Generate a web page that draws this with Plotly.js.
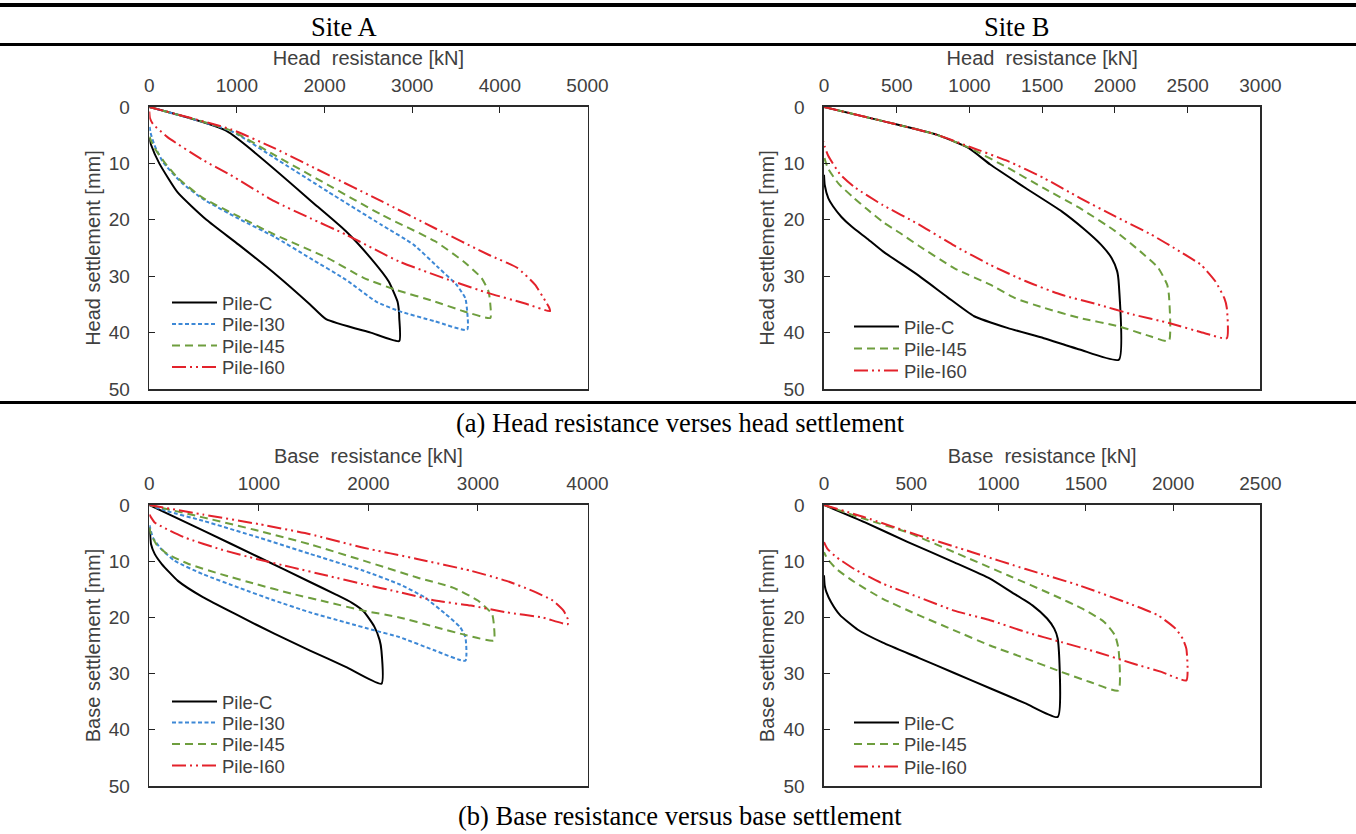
<!DOCTYPE html>
<html>
<head>
<meta charset="utf-8">
<script src="https://cdn.plot.ly/plotly-3.0.1.min.js"></script>
<style>html,body{margin:0;padding:0;background:#fff;}#chart{width:1356px;height:834px;}</style>
</head>
<body>
<div id="chart"></div>
<script>
// ---------------- DATA (resistance kN, settlement mm) ----------------
const seriesNames = ['Pile-C', 'Pile-I30', 'Pile-I45', 'Pile-I60'];
const panelTitles = ['Site A', 'Site B'];
const captionA = '(a) Head resistance verses head settlement';
const captionB = '(b) Base resistance versus base settlement';
const headXTitle = 'Head  resistance [kN]';
const headYTitle = 'Head settlement [mm]';
const baseXTitle = 'Base  resistance [kN]';
const baseYTitle = 'Base settlement [mm]';

// (a) Site A - head
const headA_C_x   = [0, 876, 1915, 2241, 2526, 2730, 2832, 2850, 2852, 2852, 2526, 2017, 1834, 1467, 1019, 652, 326, 114, 20, 0];
const headA_C_y   = [0, 4.2, 17.6, 22.0, 26.8, 30.9, 34.5, 36.5, 37.4, 41.5, 40.0, 37.6, 35.0, 30.0, 24.4, 20.0, 15.2, 10.0, 6.7, 5.5];
const headA_I30_x = [0, 937, 1426, 2037, 2649, 3015, 3300, 3504, 3606, 3627, 3627, 3260, 2852, 2588, 2241, 1834, 1426, 1019, 611, 367, 157, 60, 15, 0];
const headA_I30_y = [0, 4.3, 9.0, 15.0, 20.9, 24.4, 28.5, 31.5, 33.9, 36.2, 39.5, 38.0, 36.2, 34.5, 30.6, 26.8, 23.0, 19.8, 16.3, 13.4, 9.8, 6.8, 4.6, 3.1];
const headA_I45_x = [0, 937, 1426, 2037, 2649, 3260, 3586, 3790, 3871, 3891, 3891, 3586, 3260, 2812, 2445, 2037, 1426, 1019, 611, 326, 163, 61, 8, 0];
const headA_I45_y = [0, 4.2, 8.5, 13.8, 19.1, 23.8, 27.4, 30.3, 32.7, 35.0, 37.4, 36.2, 34.5, 32.4, 30.3, 26.8, 22.6, 19.4, 16.1, 12.6, 9.6, 7.3, 5.5, 4.3];
const headA_I60_x = [0, 937, 1426, 2037, 2649, 3260, 3871, 4197, 4401, 4523, 4564, 4572, 4279, 3871, 3464, 2852, 2241, 1834, 1426, 920, 611, 204, 41, 8, 0];
const headA_I60_y = [0, 4.0, 7.3, 12.0, 16.7, 21.5, 26.2, 28.5, 31.5, 34.5, 35.6, 36.2, 34.8, 33.0, 30.9, 27.4, 22.6, 19.7, 16.7, 12.0, 9.4, 5.3, 3.0, 2.0, 0.8];

// (a) Site B - head
const headB_C_x   = [0, 405, 774, 995, 1143, 1388, 1634, 1781, 1904, 1978, 2015, 2027, 2027, 1757, 1511, 1265, 1032, 848, 651, 405, 300, 190, 120, 62, 30, 5, 0];
const headB_C_y   = [0, 2.5, 4.9, 7.3, 10.2, 14.4, 18.5, 21.5, 24.4, 26.8, 29.1, 31.5, 44.8, 43.0, 41.0, 39.2, 37.1, 33.7, 29.9, 25.6, 23.4, 21.2, 19.5, 17.6, 16.2, 13.8, 12.0];
const headB_I45_x = [0, 405, 774, 995, 1265, 1511, 1757, 2002, 2174, 2297, 2359, 2371, 2371, 2248, 2027, 1757, 1511, 1314, 1143, 897, 651, 520, 405, 295, 200, 100, 30, 8, 0];
const headB_I45_y = [0, 2.5, 4.9, 7.2, 10.8, 14.4, 17.9, 22.0, 25.6, 28.5, 31.5, 33.3, 41.5, 40.7, 38.9, 37.4, 35.6, 33.9, 31.5, 28.6, 24.6, 22.3, 20.4, 18.1, 16.0, 13.6, 11.0, 9.5, 8.5];
const headB_I60_x = [0, 405, 774, 995, 1265, 1511, 1757, 2002, 2248, 2445, 2592, 2690, 2752, 2769, 2769, 2617, 2371, 2125, 1880, 1634, 1388, 1143, 897, 651, 405, 209, 110, 30, 5, 0];
const headB_I60_y = [0, 2.5, 4.9, 7.0, 9.6, 12.6, 16.1, 19.4, 22.6, 25.6, 28.0, 30.9, 33.9, 35.6, 41.0, 40.1, 38.3, 36.8, 35.0, 33.3, 30.9, 28.0, 24.6, 20.8, 17.4, 14.2, 11.9, 8.7, 7.0, 6.1];

// (b) Site A - base
const baseA_C_x   = [0, 489, 1000, 1467, 1700, 1850, 1956, 2053, 2102, 2119, 2119, 1793, 1467, 1141, 815, 489, 261, 114, 49, 16, 7, 0];
const baseA_C_y   = [0, 4.5, 9.3, 13.7, 15.9, 17.4, 18.9, 21.6, 24.0, 25.9, 31.8, 28.8, 25.9, 22.9, 19.7, 16.4, 13.5, 10.5, 8.7, 7.0, 5.2, 4.0];
const baseA_I30_x = [0, 163, 489, 1000, 1467, 1956, 2282, 2510, 2705, 2836, 2885, 2885, 2608, 2282, 2053, 1793, 1467, 1141, 815, 489, 228, 98, 33, 7, 0];
const baseA_I30_y = [0, 1.1, 2.8, 5.8, 8.7, 11.7, 14.1, 16.4, 19.4, 21.7, 23.5, 27.7, 25.9, 23.5, 22.3, 20.9, 19.1, 17.0, 14.7, 12.3, 9.9, 7.6, 5.8, 4.0, 3.4];
const baseA_I45_x = [0, 489, 1000, 1467, 1956, 2445, 2771, 2999, 3129, 3145, 3145, 2901, 2608, 2282, 1956, 1630, 1304, 978, 652, 359, 163, 65, 16, 0];
const baseA_I45_y = [0, 2.2, 4.6, 7.0, 9.9, 12.9, 14.7, 17.0, 19.4, 21.2, 24.1, 23.2, 21.7, 20.0, 18.8, 17.3, 15.8, 14.1, 12.3, 10.5, 8.7, 7.0, 5.2, 4.0];
const baseA_I60_x = [0, 489, 1000, 1467, 1956, 2445, 2934, 3260, 3488, 3683, 3781, 3820, 3820, 3585, 3260, 2934, 2608, 2282, 1956, 1630, 1304, 978, 652, 326, 130, 49, 16, 0];
const baseA_I60_y = [0, 1.7, 3.4, 5.2, 7.6, 9.6, 11.7, 13.5, 15.2, 17.0, 18.8, 20.3, 21.2, 20.0, 19.1, 17.9, 17.0, 15.5, 14.1, 12.6, 11.1, 9.6, 7.9, 5.8, 4.0, 3.1, 2.2, 1.7];

// (b) Site B - base
const baseB_C_x   = [0, 235, 481, 746, 951, 1074, 1196, 1278, 1319, 1339, 1339, 1155, 951, 746, 542, 337, 194, 92, 41, 14, 4, 0];
const baseB_C_y   = [0, 3.1, 6.6, 10.2, 13.1, 15.5, 17.9, 20.2, 22.0, 23.8, 37.7, 35.3, 32.6, 29.9, 27.2, 24.5, 22.2, 19.6, 17.3, 15.5, 14.3, 12.5];
const baseB_I45_x = [0, 235, 481, 746, 1053, 1319, 1483, 1605, 1667, 1687, 1687, 1524, 1360, 1155, 951, 746, 542, 337, 174, 72, 20, 0];
const baseB_I45_y = [0, 2.5, 4.9, 8.4, 12.5, 16.1, 18.5, 20.8, 23.2, 25.6, 33.0, 31.5, 29.7, 27.3, 25.0, 22.3, 19.6, 16.7, 13.7, 11.4, 9.6, 8.4];
const baseB_I60_x = [0, 235, 542, 849, 1155, 1462, 1728, 1912, 2014, 2055, 2076, 2076, 1933, 1769, 1565, 1360, 1155, 951, 746, 542, 337, 174, 72, 20, 0];
const baseB_I60_y = [0, 2.2, 5.4, 8.4, 11.4, 14.3, 17.3, 19.6, 22.0, 23.8, 25.6, 31.2, 29.7, 28.2, 26.2, 24.4, 22.6, 20.5, 18.8, 16.4, 14.0, 11.4, 9.3, 7.8, 6.6];

// axis settings per panel
const xRanges = {headA: [0, 5000], headB: [0, 3000], baseA: [0, 4000], baseB: [0, 2500]};
const xDticks = {headA: 1000, headB: 500, baseA: 1000, baseB: 500};
const yRange = [50, 0];
const yDtick = 10;

// ---------------- STYLE ----------------
const W = 1356, H = 834;
const SANS = 'Liberation Sans, Arial, sans-serif';
const SERIF = 'Liberation Serif, Times New Roman, serif';
const TXT = '#404040';
const styles = {
  'Pile-C':   {color: '#000000', dash: 'solid'},
  'Pile-I30': {color: '#3d88d6', dash: '4px,2.5px'},
  'Pile-I45': {color: '#6e9e3e', dash: '8px,5px'},
  'Pile-I60': {color: '#e3222b', dash: '14px,4px,2px,4px,2px,4px'}
};
const px = v => v / W;
const py = v => 1 - v / H;

let legendCount = 0;
const legends = {};
function legendFor(xLine, yCenter) {
  legendCount += 1;
  const key = legendCount === 1 ? 'legend' : 'legend' + legendCount;
  legends[key] = {x: px(xLine - 5), y: py(yCenter), xanchor: 'left', yanchor: 'middle',
    bgcolor: 'rgba(0,0,0,0)', font: {family: SANS, size: 18.5, color: TXT}, itemwidth: 45};
  return key;
}

function tr(x, y, name, xa, ya, legX, legY) {
  const s = styles[name];
  return {x, y, name, type: 'scatter', mode: 'lines', xaxis: xa, yaxis: ya, legend: legendFor(legX, legY),
    line: {color: s.color, dash: s.dash, width: 2, shape: 'spline', smoothing: 0.5}, hoverinfo: 'skip'};
}

const LXA = 172, LXB = 854;
const traces = [
  tr(headA_C_x, headA_C_y, 'Pile-C', 'x', 'y', LXA, 303),
  tr(headA_I30_x, headA_I30_y, 'Pile-I30', 'x', 'y', LXA, 324.5),
  tr(headA_I45_x, headA_I45_y, 'Pile-I45', 'x', 'y', LXA, 346),
  tr(headA_I60_x, headA_I60_y, 'Pile-I60', 'x', 'y', LXA, 367.5),
  tr(headB_C_x, headB_C_y, 'Pile-C', 'x2', 'y2', LXB, 327),
  tr(headB_I45_x, headB_I45_y, 'Pile-I45', 'x2', 'y2', LXB, 349),
  tr(headB_I60_x, headB_I60_y, 'Pile-I60', 'x2', 'y2', LXB, 371),
  tr(baseA_C_x, baseA_C_y, 'Pile-C', 'x3', 'y3', LXA, 702),
  tr(baseA_I30_x, baseA_I30_y, 'Pile-I30', 'x3', 'y3', LXA, 723),
  tr(baseA_I45_x, baseA_I45_y, 'Pile-I45', 'x3', 'y3', LXA, 744.5),
  tr(baseA_I60_x, baseA_I60_y, 'Pile-I60', 'x3', 'y3', LXA, 766),
  tr(baseB_C_x, baseB_C_y, 'Pile-C', 'x4', 'y4', LXB, 723),
  tr(baseB_I45_x, baseB_I45_y, 'Pile-I45', 'x4', 'y4', LXB, 744.5),
  tr(baseB_I60_x, baseB_I60_y, 'Pile-I60', 'x4', 'y4', LXB, 767)
];

const tickfont = {family: SANS, size: 19, color: TXT};
const titlefont = {family: SANS, size: 20, color: TXT};
function xax(domain, key, title, anchor) {
  return {domain, range: xRanges[key], dtick: xDticks[key], tick0: 0, side: 'top', anchor,
    ticks: 'inside', ticklen: 6, tickwidth: 1, tickcolor: '#222',
    showline: true, mirror: true, linecolor: '#2a2a2a', linewidth: 1.6,
    showgrid: false, zeroline: false, tickfont, ticklabelstandoff: 6,
    title: {text: title, font: titlefont, standoff: 4}, fixedrange: true};
}
function yax(domain, title, anchor) {
  return {domain, range: yRange, dtick: yDtick, tick0: 0, anchor,
    ticks: 'inside', ticklen: 6, tickwidth: 1, tickcolor: '#222',
    showline: true, mirror: true, linecolor: '#2a2a2a', linewidth: 1.6,
    showgrid: false, zeroline: false, tickfont, ticklabelstandoff: 14,
    title: {text: title, font: titlefont, standoff: 3}, fixedrange: true};
}

const dxA = [px(149.3), px(587.5)], dxB = [px(824), px(1260.4)];
const dyTop = [py(389), py(107)], dyBot = [py(786), py(505)];

function hline(yv, w) {
  return {type: 'line', xref: 'paper', yref: 'paper', x0: 0, x1: 1, y0: py(yv), y1: py(yv),
    line: {color: '#000', width: w}};
}
function ann(text, xp, yp, font) {
  return {text, x: px(xp), y: py(yp), xref: 'paper', yref: 'paper', xanchor: 'center', yanchor: 'middle',
    showarrow: false, font};
}
const serif = {family: SERIF, size: 26.5, color: '#000'};

const layout = Object.assign({
  width: W, height: H, margin: {l: 0, r: 0, t: 0, b: 0},
  paper_bgcolor: '#fff', plot_bgcolor: '#fff', showlegend: true,
  xaxis: xax(dxA, 'headA', headXTitle, 'y'),
  yaxis: yax(dyTop, headYTitle, 'x'),
  xaxis2: xax(dxB, 'headB', headXTitle, 'y2'),
  yaxis2: yax(dyTop, headYTitle, 'x2'),
  xaxis3: xax(dxA, 'baseA', baseXTitle, 'y3'),
  yaxis3: yax(dyBot, baseYTitle, 'x3'),
  xaxis4: xax(dxB, 'baseB', baseXTitle, 'y4'),
  yaxis4: yax(dyBot, baseYTitle, 'x4'),
  shapes: [hline(5, 4), hline(44.5, 3), hline(402.5, 3)],
  annotations: [
    ann(panelTitles[0], 344, 27, serif),
    ann(panelTitles[1], 1017, 27, serif),
    ann(captionA, 680, 423, serif),
    ann(captionB, 680, 816, serif)
  ]
}, legends);

Plotly.newPlot('chart', traces, layout, {staticPlot: true, displayModeBar: false});
</script>
</body>
</html>
